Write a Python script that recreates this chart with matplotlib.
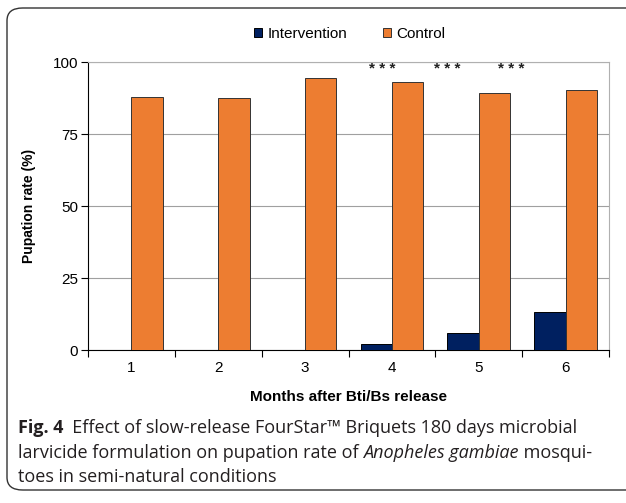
import numpy as np
import matplotlib
matplotlib.use('Agg')
import matplotlib.pyplot as plt
from matplotlib.patches import FancyBboxPatch

months = ['1', '2', '3', '4', '5', '6']
intervention = [0, 0, 0, 2.2, 5.9, 13.2]
control = [87.7, 87.4, 94.4, 93.2, 89.2, 90.3]
star_pos = [2.89, 3.64, 4.38]   # where the *** marks sit (category units)
star_y = 97.6
yticks = [0, 25, 50, 75, 100]

plt.rcParams['font.family'] = ['Liberation Sans', 'DejaVu Sans']

fig = plt.figure(figsize=(6.26, 5.03), dpi=100)
W, H = 626, 503

# rounded frame around chart + caption
frame = FancyBboxPatch((7 / W, 13 / H), 660 / W, 482 / H,
                       boxstyle='round,pad=0,rounding_size=0.025',
                       transform=fig.transFigure, fill=False,
                       edgecolor='#333333', linewidth=1.0, clip_on=False)
fig.patches.append(frame)

ax = fig.add_axes([88 / W, 1 - 350 / H, 521 / W, 288 / H])
x = np.arange(len(months))
w = 0.36
ax.bar(x - w / 2, intervention, w, color='#002060', edgecolor='black',
       linewidth=0.7, label='Intervention', zorder=3)
ax.bar(x + w / 2, control, w, color='#ED7D31', edgecolor='#333333',
       linewidth=0.7, label='Control', zorder=3)

ax.set_xlim(-0.5, len(months) - 0.5)
ax.set_ylim(0, 100)
ax.set_yticks(yticks)
ax.yaxis.grid(True, color='#A0A0A0', linewidth=0.8, zorder=0)
ax.set_xticks(x)
ax.set_xticklabels(months, fontsize=11)
ax.set_xticks(np.arange(len(months) + 1) - 0.5, minor=True)
ax.tick_params(axis='x', which='major', length=0, pad=8)
ax.tick_params(axis='x', which='minor', length=5, width=0.8)
ax.tick_params(axis='y', length=5, width=0.8, labelsize=11, pad=2)
for s in ['top', 'right']:
    ax.spines[s].set_color('#B0B0B0')
for s in ['left', 'bottom']:
    ax.spines[s].set_color('black')
    ax.spines[s].set_linewidth(0.8)

for p in star_pos:
    ax.text(p, star_y, '* * *', ha='center', va='center', fontsize=11,
            fontweight='bold', color='#222222')

ax.set_xlabel('Months after Bti/Bs release', fontsize=11, fontweight='bold', labelpad=11)
ax.set_ylabel('Pupation rate (%)', fontsize=10, fontweight='bold', labelpad=12)

fig.legend(loc='center', bbox_to_anchor=(350 / W, 1 - 34 / H), ncol=2, frameon=False,
           fontsize=11, handlelength=0.5, handleheight=0.5, columnspacing=2.3,
           handletextpad=0.4)

# caption, drawn piece by piece so bold / italic parts line up
cap_font = ['Open Sans', 'DejaVu Sans']
cap_size = 13.0
lines = [
    [('Fig. 4', 'bold', 'normal'), ('  Effect of slow-release FourStar\u2122 Briquets 180 days microbial', 'normal', 'normal')],
    [('larvicide formulation on pupation rate of ', 'normal', 'normal'), ('Anopheles gambiae', 'normal', 'italic'), (' mosqui-', 'normal', 'normal')],
    [('toes in semi-natural conditions', 'normal', 'normal')],
]
line_y = [428, 453, 477]
fig.canvas.draw()
renderer = fig.canvas.get_renderer()
for segs, yy in zip(lines, line_y):
    xpos = 18
    for txt, weight, style in segs:
        t = fig.text(xpos / W, 1 - yy / H, txt, fontsize=cap_size, fontweight=weight,
                     fontstyle=style, family=cap_font, va='center', ha='left',
                     color='#231F20')
        bb = t.get_window_extent(renderer=renderer)
        xpos += bb.width

fig.savefig('out.png', dpi=100)
